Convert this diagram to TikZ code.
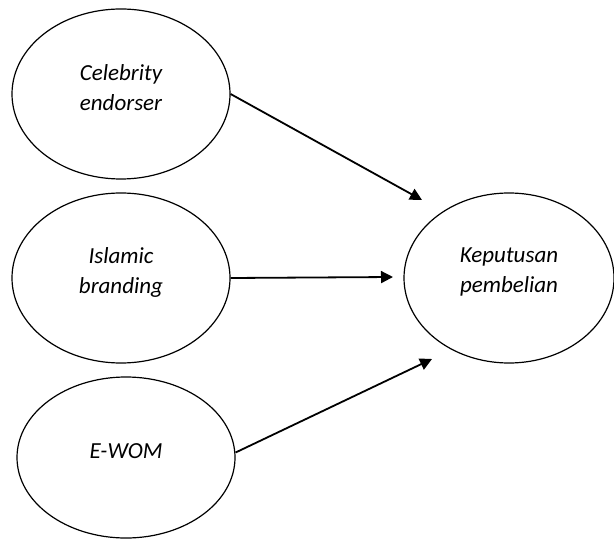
\documentclass[tikz,border=0pt]{standalone}
\usepackage{fontspec}
\setmainfont{Carlito}
\usetikzlibrary{shapes.geometric,arrows.meta}
\begin{document}
\begin{tikzpicture}[x=0.5pt,y=-0.5pt,
  var/.style={draw,ellipse,line width=0.6pt,inner sep=0pt},
  lbl/.style={align=center,inner sep=0pt,yshift=3pt,
    font=\fontsize{11.5}{15}\selectfont\itshape},
  conn/.style={line width=0.9pt,-{Triangle[length=6pt,width=6pt]}}]
\useasboundingbox (0,0) rectangle (614,539);
\node[var,minimum width=109pt,minimum height=85pt] (ce) at (121,94) {};
\node[var,minimum width=109pt,minimum height=85pt] (ib) at (121,278) {};
\node[var,minimum width=109pt,minimum height=80.5pt] (ew) at (126,457.5) {};
\node[var,minimum width=105pt,minimum height=85pt] (kp) at (509,278) {};
\node[lbl] (cet) at (ce) {Celebrity\\endorser};
\node[lbl] (ibt) at (ib) {Islamic\\branding};
\node[lbl] (ewt) at (ew) {E-WOM};
\node[lbl] (kpt) at (kp) {Keputusan\\pembelian};
\coordinate (t1) at (422,200);
\coordinate (t2) at (393,277);
\coordinate (t3) at (432,359);
\draw[conn] (ce.east) -- (t1);
\draw[conn] (ib.east) -- (t2);
\draw[conn] ([yshift=2.5pt]ew.east) -- (t3);
\end{tikzpicture}
\end{document}
